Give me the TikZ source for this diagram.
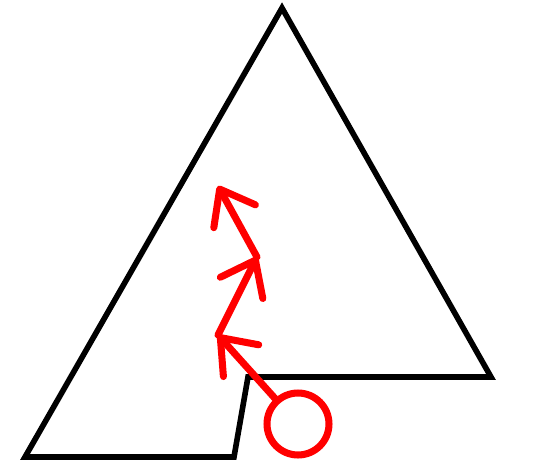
\documentclass[tikz,border=0pt]{standalone}
\usepackage{tikz}
\usetikzlibrary{arrows.meta,positioning}

\begin{document}
\begin{tikzpicture}[x=0.02cm,y=-0.02cm,
wall/.style={draw=black,line width=3.2pt},
move/.style={draw=red,line width=4pt,line cap=round,
  -{Straight Barb[length=0.62cm,width=0.95cm,round]}},
robot/.style={draw=red,circle,line width=4pt,minimum size=1.24cm,inner sep=0pt}]
\useasboundingbox (0,0) rectangle (555,464);
% room outline
\draw[wall] (282,8)--(491,377)--(248,377)--(234,457)--(25,457)--cycle;
% robot and its path
\node[robot] (r) at (298,424) {};
\coordinate (p1) at (218,335);
\coordinate (p2) at (257,257);
\coordinate (p3) at (218,186);
\draw[move] (r)--(p1);
\draw[move] (p1)--(p2);
\draw[move] (p2)--(p3);
\end{tikzpicture}
\end{document}
